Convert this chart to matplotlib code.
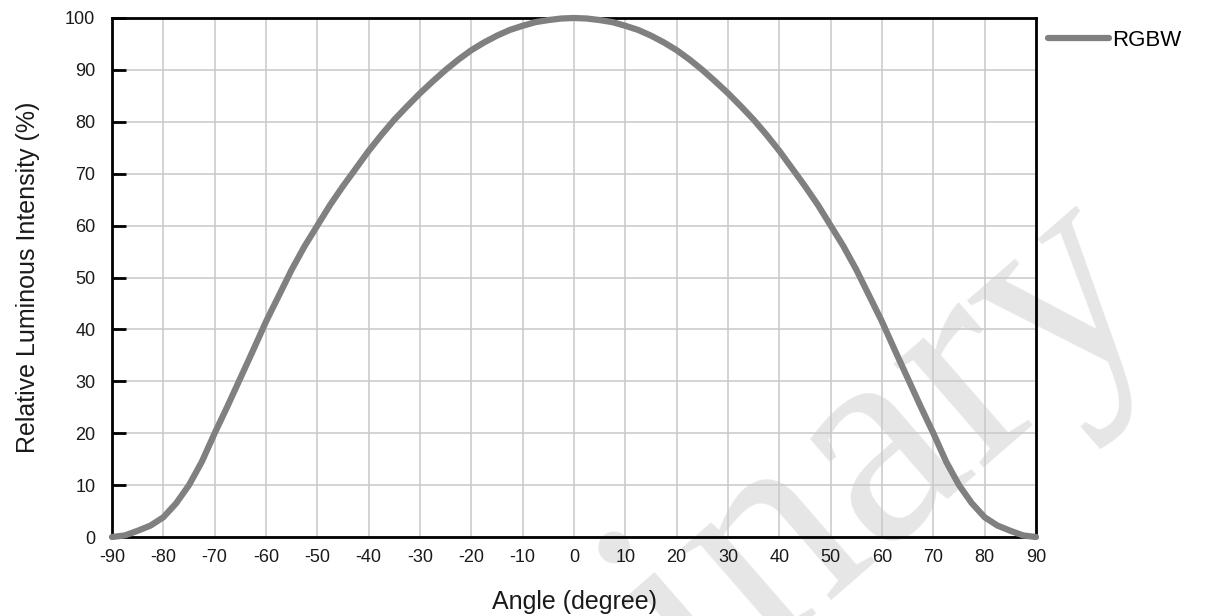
import numpy as np
import matplotlib.pyplot as plt

# relative luminous intensity vs viewing angle, read every 2.5 degrees
angle = [-90, -87.5, -85, -82.5, -80, -77.5, -75, -72.5, -70, -67.5, -65, -62.5, -60, -57.5, -55, -52.5,
         -50, -47.5, -45, -42.5, -40, -37.5, -35, -32.5, -30, -27.5, -25, -22.5, -20, -17.5, -15, -12.5,
         -10, -7.5, -5, -2.5, 0, 2.5, 5, 7.5, 10, 12.5, 15, 17.5, 20, 22.5, 25, 27.5, 30, 32.5, 35, 37.5,
         40, 42.5, 45, 47.5, 50, 52.5, 55, 57.5, 60, 62.5, 65, 67.5, 70, 72.5, 75, 77.5, 80, 82.5, 85,
         87.5, 90]
rgbw = [0, 0.3, 1.2, 2.2, 3.8, 6.5, 10, 14.5, 20, 25.2, 30.6, 36, 41.5, 46.5, 51.5, 56,
        60, 64, 67.6, 71, 74.4, 77.5, 80.4, 83, 85.5, 87.8, 90, 92, 93.8, 95.3, 96.6, 97.7,
        98.5, 99.2, 99.6, 99.9, 100, 99.9, 99.6, 99.2, 98.5, 97.7, 96.6, 95.3, 93.8, 92, 90, 87.8,
        85.5, 83, 80.4, 77.5, 74.4, 71, 67.6, 64, 60, 56, 51.5, 46.5, 41.5, 36, 30.6, 25.2, 20,
        14.5, 10, 6.5, 3.8, 2.2, 1.2, 0.3, 0]

x_ticks = list(range(-90, 91, 10))
y_ticks = list(range(0, 101, 10))

plt.rcParams['font.family'] = ['Liberation Sans', 'DejaVu Sans']
plt.rcParams['axes.unicode_minus'] = False

fig = plt.figure(figsize=(12.05, 6.16), dpi=100)
W, H = 1205, 616

# faint watermark behind everything
fig.text(1166 / W, 1 - 302 / H, "Preliminary", family="Liberation Serif", fontsize=215,
         color="#e6e6e6", rotation=41, rotation_mode="anchor", ha="right", va="baseline", zorder=-1)

ax = fig.add_axes([112 / W, 1 - 537 / H, (1036 - 112) / W, (537 - 18) / H])
ax.patch.set_alpha(0)

ax.plot(angle, rgbw, color="#808080", lw=4.5, solid_capstyle="round", solid_joinstyle="round",
        label="RGBW", zorder=5, clip_on=False)

ax.set_xlim(-90, 90)
ax.set_ylim(0, 100)
ax.set_xticks(x_ticks)
ax.set_yticks(y_ticks)
ax.grid(True, color="#c8c8c8", lw=1.1)
ax.set_axisbelow(True)

for s in ax.spines.values():
    s.set_linewidth(2)
    s.set_color("black")
    s.set_zorder(3)

ax.tick_params(axis="y", direction="in", length=10, width=2, labelsize=13, labelcolor="#1a1a1a", pad=12)
ax.tick_params(axis="x", length=0, labelsize=13, labelcolor="#1a1a1a", pad=9)

ax.set_xlabel("Angle (degree)", fontsize=18, color="#1a1a1a", labelpad=17)
ax.set_ylabel("Relative Luminous Intensity (%)", fontsize=18, color="#1a1a1a", labelpad=18)

ax.legend(loc="upper left", bbox_to_anchor=(1.0, 1.0), frameon=False, fontsize=16,
          handlelength=2.75, handletextpad=0.12, borderaxespad=0.15)

fig.savefig("out.png", dpi=100)
